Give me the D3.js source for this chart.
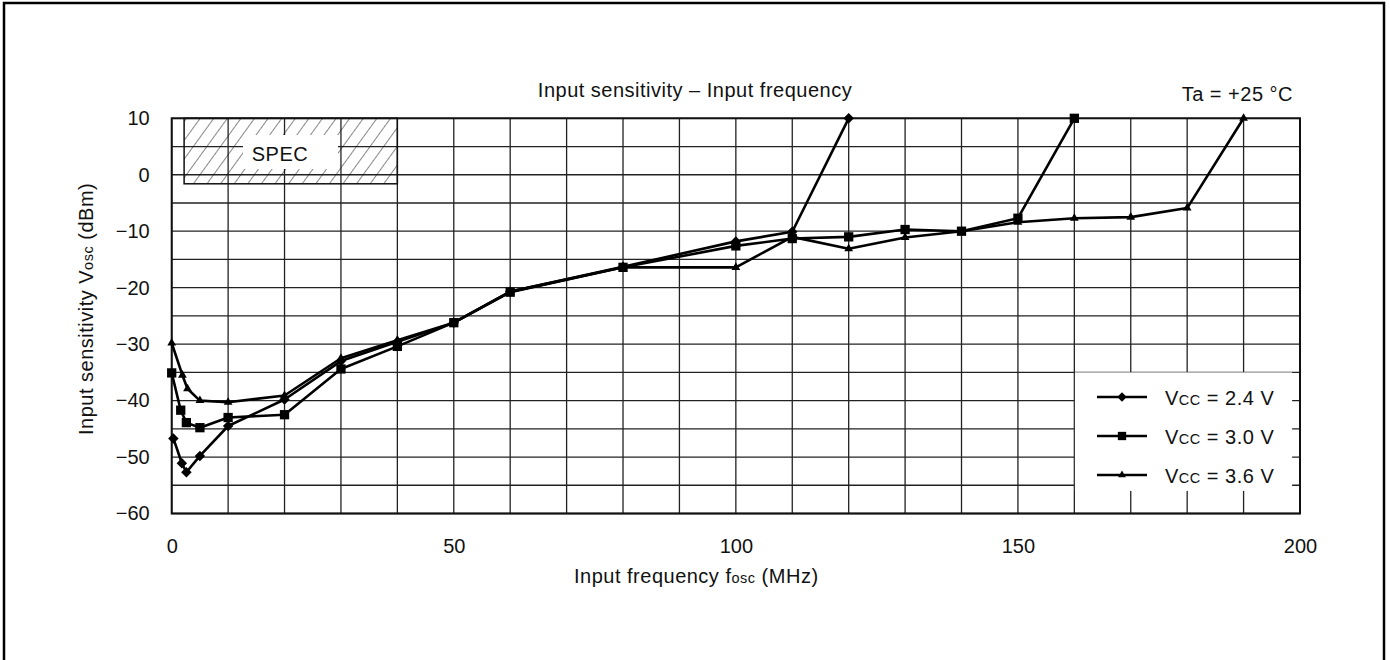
<!DOCTYPE html>
<html lang="en">
<head>
  <meta charset="UTF-8" />
  <title>Input sensitivity - Input frequency</title>
  <script src="https://d3js.org/d3.v7.min.js"></script>
  <style>
    body {
      margin: 0;
      background: #fff;
    }

    svg {
      display: block;
      font-family: "Liberation Sans", Arial, sans-serif;
    }

    .grid line {
      stroke: #222;
      stroke-width: 1.3px;
    }

    .series {
      fill: none;
      stroke: #000;
      stroke-width: 2.6px;
      stroke-linejoin: round;
    }

    .axis text {
      font-size: 20px;
      fill: #111;
    }

    .lbl {
      font-size: 20px;
      letter-spacing: 0.5px;
      fill: #111;
    }
  </style>
</head>

<body>
  <svg id="chart" width="1390" height="660"></svg>

  <script>
    // data (MHz, dBm)
    const freq24 = [0.3, 1.8, 2.6, 5, 10, 20, 30, 40, 50, 60, 80, 100, 110, 120];
    const vcc24 = [-46.7, -51.1, -52.7, -49.8, -44.5, -39.8, -33.0, -29.6, -26.2, -20.7, -16.3, -11.8, -10.1, 10];

    const freq30 = [0, 1.6, 2.6, 5, 10, 20, 30, 40, 50, 60, 80, 100, 110, 120, 130, 140, 150, 160];
    const vcc30 = [-35.1, -41.7, -43.9, -44.8, -43.0, -42.5, -34.4, -30.4, -26.2, -20.8, -16.4, -12.6, -11.3, -11.0, -9.7, -10.0, -7.7, 10];

    const freq36 = [0, 1.9, 2.8, 5, 10, 20, 30, 40, 50, 60, 80, 100, 110, 120, 130, 140, 150, 160, 170, 180, 190];
    const vcc36 = [-29.8, -35.5, -37.9, -40.0, -40.3, -39.1, -32.5, -29.3, -26.2, -20.7, -16.4, -16.4, -11.0, -13.1, -11.1, -10.0, -8.4, -7.7, -7.5, -5.9, 10];

    const seriesNames = ["2.4 V", "3.0 V", "3.6 V"];
    const xTicks = [0, 50, 100, 150, 200];
    const yTicks = [10, 0, -10, -20, -30, -40, -50, -60];
    const specX = [2.2, 40];
    const specY = [-1.6, 10];

    const series = [
      { name: seriesNames[0], shape: d3.symbolDiamond2, size: 70, pts: d3.zip(freq24, vcc24) },
      { name: seriesNames[1], shape: d3.symbolSquare2, size: 110, pts: d3.zip(freq30, vcc30) },
      { name: seriesNames[2], shape: d3.symbolTriangle2, size: 55, pts: d3.zip(freq36, vcc36) }
    ];

    const svg = d3.select("#chart");

    // outer frame (bottom edge falls outside the picture)
    svg.append("rect")
      .attr("x", 4).attr("y", 3)
      .attr("width", 1380).attr("height", 700)
      .attr("fill", "none").attr("stroke", "#000").attr("stroke-width", 2.5);

    const x = d3.scaleLinear().domain([0, 200]).range([171.7, 1300]);
    const y = d3.scaleLinear().domain([-60, 10]).range([513.5, 118.3]);

    const defs = svg.append("defs");
    const hatch = defs.append("pattern")
      .attr("id", "hatch")
      .attr("patternUnits", "userSpaceOnUse")
      .attr("width", 11).attr("height", 11)
      .attr("patternTransform", "rotate(36)");
    hatch.append("line")
      .attr("x1", 0).attr("y1", 0).attr("x2", 0).attr("y2", 11)
      .attr("stroke", "#111").attr("stroke-width", 1);

    // grid: 10 MHz x 5 dBm
    const grid = svg.append("g").attr("class", "grid");
    grid.selectAll(".vx")
      .data(d3.range(0, 201, 10))
      .join("line")
      .attr("x1", d => x(d)).attr("x2", d => x(d))
      .attr("y1", y(10)).attr("y2", y(-60));
    grid.selectAll(".hy")
      .data(d3.range(-60, 11, 5))
      .join("line")
      .attr("y1", d => y(d)).attr("y2", d => y(d))
      .attr("x1", x(0)).attr("x2", x(200));

    // plot border
    svg.append("rect")
      .attr("x", x(0)).attr("y", y(10))
      .attr("width", x(200) - x(0)).attr("height", y(-60) - y(10))
      .attr("fill", "none").attr("stroke", "#111").attr("stroke-width", 2);

    // SPEC area
    svg.append("rect")
      .attr("x", x(specX[0])).attr("y", y(specY[1]))
      .attr("width", x(specX[1]) - x(specX[0]))
      .attr("height", y(specY[0]) - y(specY[1]))
      .attr("fill", "url(#hatch)")
      .attr("stroke", "#111").attr("stroke-width", 1.5);
    svg.append("rect")
      .attr("x", 243).attr("y", 135)
      .attr("width", 95).attr("height", 34)
      .attr("fill", "#fff");
    svg.append("text")
      .attr("class", "lbl")
      .attr("x", 280).attr("y", 161)
      .attr("text-anchor", "middle")
      .text("SPEC");

    // axes (labels only)
    const xAxis = svg.append("g")
      .attr("class", "axis")
      .attr("transform", `translate(0,${y(-60) + 22})`)
      .call(d3.axisBottom(x).tickValues(xTicks).tickSize(0).tickFormat(d3.format("d")));
    xAxis.select(".domain").remove();
    xAxis.selectAll("text").attr("font-family", null).attr("font-size", null);

    const yAxis = svg.append("g")
      .attr("class", "axis")
      .attr("transform", `translate(${x(0) - 14},0)`)
      .call(d3.axisLeft(y).tickValues(yTicks).tickSize(0).tickPadding(8));
    yAxis.select(".domain").remove();
    yAxis.selectAll("text").attr("font-family", null).attr("font-size", null);

    // series
    const line = d3.line().x(d => x(d[0])).y(d => y(d[1]));
    series.forEach(s => {
      svg.append("path")
        .attr("class", "series")
        .attr("d", line(s.pts));
      svg.append("g")
        .selectAll("path")
        .data(s.pts)
        .join("path")
        .attr("transform", d => `translate(${x(d[0])},${y(d[1])})`)
        .attr("d", d3.symbol().type(s.shape).size(s.size))
        .attr("fill", "#000");
    });

    // legend
    const legendBox = { x0: 160.1, x1: 198.6, y0: -35.0, y1: -56.0 };
    svg.append("rect")
      .attr("x", x(legendBox.x0)).attr("y", y(legendBox.y0))
      .attr("width", x(legendBox.x1) - x(legendBox.x0))
      .attr("height", y(legendBox.y1) - y(legendBox.y0))
      .attr("fill", "#fff");

    const legend = svg.append("g");
    series.forEach((s, i) => {
      const ly = 397 + i * 39;
      legend.append("line")
        .attr("x1", 1097).attr("x2", 1147)
        .attr("y1", ly).attr("y2", ly)
        .attr("stroke", "#000").attr("stroke-width", 2.6);
      legend.append("path")
        .attr("transform", `translate(1122,${ly})`)
        .attr("d", d3.symbol().type(s.shape).size(s.size * 0.8))
        .attr("fill", "#000");
      const t = legend.append("text")
        .attr("class", "lbl")
        .attr("x", 1165).attr("y", ly + 8);
      t.append("tspan").text("V");
      t.append("tspan").attr("font-size", 14.5).text("CC");
      t.append("tspan").text(" = " + s.name);
    });

    // titles
    svg.append("text")
      .attr("class", "lbl")
      .attr("x", 695).attr("y", 97)
      .attr("text-anchor", "middle")
      .text("Input sensitivity – Input frequency");

    svg.append("text")
      .attr("class", "lbl")
      .attr("x", 1293).attr("y", 101)
      .attr("text-anchor", "end")
      .text("Ta = +25 °C");

    const xt = svg.append("text")
      .attr("class", "lbl")
      .attr("x", 574).attr("y", 583);
    xt.append("tspan").text("Input frequency f");
    xt.append("tspan").attr("font-size", 14.5).text("osc");
    xt.append("tspan").text(" (MHz)");

    const yt = svg.append("text")
      .attr("class", "lbl")
      .attr("transform", "translate(93,435) rotate(-90)");
    yt.append("tspan").text("Input sensitivity V");
    yt.append("tspan").attr("font-size", 14.5).text("osc");
    yt.append("tspan").text(" (dBm)");
  </script>
</body>
</html>
